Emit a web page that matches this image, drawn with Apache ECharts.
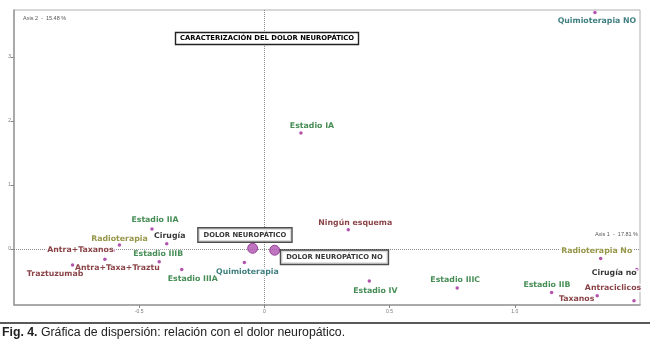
<!DOCTYPE html>
<html>
<head>
<meta charset="utf-8">
<script src="https://cdn.jsdelivr.net/npm/echarts@6/dist/echarts.min.js"></script>
<style>
  html, body { margin: 0; padding: 0; background: #fff; }
  #chart { width: 650px; height: 343px; }
</style>
</head>
<body>
<div id="chart"></div>
<script>
// Correspondence analysis map: category coordinates on the first two axes
const names = [
  'Quimioterapia NO', 'Estadio IA', 'Estadio IIA', 'Cirugía', 'Radioterapia',
  'Antra+Taxanos', 'Estadio IIIB', 'Antra+Taxa+Traztu', 'Traztuzumab', 'Estadio IIIA',
  'DOLOR NEUROPÁTICO', 'DOLOR NEUROPÁTICO NO', 'Quimioterapia', 'Ningún esquema',
  'Estadio IV', 'Estadio IIIC', 'Radioterapia No', 'Cirugía no', 'Estadio IIB',
  'Antraciclicos', 'Taxanos'
];
const axis1 = [
  1.320, 0.146, -0.449, -0.390, -0.579,
  -0.603, -0.420, -0.637, -0.766, -0.330,
  -0.047, 0.041, -0.080, 0.335,
  0.419, 0.770, 1.343, 1.487, 1.147,
  1.476, 1.329
];
const axis2 = [
  3.69, 1.81, 0.31, 0.08, 0.06,
  -0.03, -0.20, -0.16, -0.25, -0.32,
  0.01, -0.02, -0.21, 0.30,
  -0.50, -0.61, -0.15, -0.32, -0.68,
  -0.81, -0.73
];
const groups = [
  'quimio', 'estadio', 'estadio', 'cirugia', 'radio',
  'tratamiento', 'estadio', 'tratamiento', 'tratamiento', 'estadio',
  'dolor', 'dolor', 'quimio', 'tratamiento',
  'estadio', 'estadio', 'radio', 'cirugia', 'estadio',
  'tratamiento', 'tratamiento'
];
const xTicks = [-0.5, 0, 0.5, 1.0];
const yTicks = [0, 1, 2, 3];
const axis1Title = 'Axis 1  -  17.81 %';
const axis2Title = 'Axis 2  -  15.48 %';
const chartTitle = 'CARACTERIZACIÓN DEL DOLOR NEUROPÁTICO';

// label colours per variable group
const groupColor = {
  estadio: '#17702a',
  tratamiento: '#6c1216',
  quimio: '#0e5e60',
  radio: '#7c7c1c',
  cirugia: '#000000',
  dolor: '#000000'
};

// label placement (pixel shift of the label centre away from its point)
const labelShift = {
  'Quimioterapia NO': [2, 8],
  'Estadio IA': [11, -7],
  'Estadio IIA': [3, -9],
  'Cirugía': [3, -8],
  'Radioterapia': [0, -6],
  'Antra+Taxanos': [-33, -1],
  'Estadio IIIB': [-1, -8],
  'Antra+Taxa+Traztu': [12.5, 9],
  'Traztuzumab': [-17.5, 9],
  'Estadio IIIA': [11, 10],
  'DOLOR NEUROPÁTICO': [-7.7, -13.3],
  'DOLOR NEUROPÁTICO NO': [59.8, 7],
  'Quimioterapia': [3, 10],
  'Ningún esquema': [7, -7],
  'Estadio IV': [6, 9.5],
  'Estadio IIIC': [-2, -8],
  'Radioterapia No': [-4, -8],
  'Cirugía no': [-22.5, 3.5],
  'Estadio IIB': [-4.7, -8],
  'Antraciclicos': [-21, -13],
  'Taxanos': [-20.6, 3.7]
};

const LABEL_FONT = 'DejaVu Sans';

const points = names.map((n, i) => {
  const isPain = groups[i] === 'dolor';
  return {
    name: n,
    value: [axis1[i], axis2[i]],
    symbolSize: isPain ? 10 : 3.5,
    itemStyle: isPain
      ? { color: '#b052b0', borderColor: '#86288a', borderWidth: 1 }
      : { color: '#a0289a' },
    label: isPain ? {
      show: true,
      position: 'inside',
      formatter: n,
      color: '#000',
      fontFamily: LABEL_FONT,
      fontWeight: 'bold',
      fontSize: 6.8,
      backgroundColor: '#fff',
      borderColor: '#222',
      borderWidth: 1.4,
      padding: [3, 5, 3, 5]
    } : {
      show: true,
      position: 'inside',
      formatter: n,
      color: groupColor[groups[i]],
      fontFamily: LABEL_FONT,
      fontWeight: 'bold',
      fontSize: 7.8,
      backgroundColor: '#fff',
      padding: [0, 1]
    }
  };
});

const chart = echarts.init(document.getElementById('chart'), null, { renderer: 'canvas' });

chart.setOption({
  animation: false,
  backgroundColor: '#fff',
  title: {
    text: chartTitle,
    left: 175,
    top: 32,
    padding: [3, 5, 3, 5],
    borderColor: '#222',
    borderWidth: 1.4,
    backgroundColor: '#fff',
    textStyle: {
      fontFamily: LABEL_FONT,
      fontWeight: 'bold',
      fontSize: 6.8,
      color: '#000'
    }
  },
  grid: {
    left: 14, right: 10, top: 10, bottom: 38,
    show: true,
    borderColor: '#b0b0b0',
    borderWidth: 1,
    backgroundColor: 'transparent'
  },
  xAxis: {
    type: 'value',
    min: -1, max: 1.5,
    axisLine: { show: true, onZero: false, lineStyle: { color: '#9a9a9a', width: 1.5 } },
    axisTick: { show: true, length: 3, customValues: xTicks, lineStyle: { color: '#888' } },
    axisLabel: {
      customValues: xTicks,
      fontSize: 5, color: '#777', margin: 4,
      fontFamily: 'Liberation Sans',
      formatter: v => (v === 1 ? '1.0' : String(v))
    },
    splitLine: { show: false }
  },
  yAxis: {
    type: 'value',
    min: -0.875, max: 3.73,
    axisLine: { show: true, onZero: false, lineStyle: { color: '#9a9a9a', width: 1.5 } },
    axisTick: { show: true, length: 3, customValues: yTicks, lineStyle: { color: '#888' } },
    axisLabel: {
      customValues: yTicks,
      fontSize: 5, color: '#777', margin: 3,
      fontFamily: 'Liberation Sans'
    },
    splitLine: { show: false }
  },
  series: [{
    type: 'scatter',
    data: points,
    symbol: 'circle',
    labelLayout: function (params) {
      const s = labelShift[names[params.dataIndex]] || [0, 0];
      return { dx: s[0], dy: s[1], hideOverlap: false };
    },
    markLine: {
      silent: true,
      symbol: ['none', 'none'],
      label: { show: false },
      lineStyle: { type: 'dotted', color: '#8a8a8a', width: 1 },
      data: [{ xAxis: 0 }, { yAxis: 0 }],
      z: 1
    },
    z: 3
  }],
  graphic: [
    {
      type: 'text', left: 23, top: 15,
      style: { text: axis2Title, fontSize: 5.5, fill: '#555', fontFamily: 'Liberation Sans' }
    },
    {
      type: 'text', right: 12, top: 231,
      style: { text: axis1Title, fontSize: 5.5, fill: '#555', fontFamily: 'Liberation Sans' }
    },
    {
      type: 'rect', left: 0, top: 322,
      shape: { width: 650, height: 2 },
      style: { fill: '#5a5a5a' }
    },
    {
      type: 'text', left: 2, top: 327,
      style: {
        text: '{b|Fig. 4.} Gráfica de dispersión: relación con el dolor neuropático.',
        fontFamily: 'Liberation Sans',
        fontSize: 12.3,
        fill: '#222',
        rich: {
          b: { fontFamily: 'Liberation Sans', fontWeight: 'bold', fontSize: 12.3, fill: '#222' }
        }
      }
    }
  ]
});
</script>
</body>
</html>
